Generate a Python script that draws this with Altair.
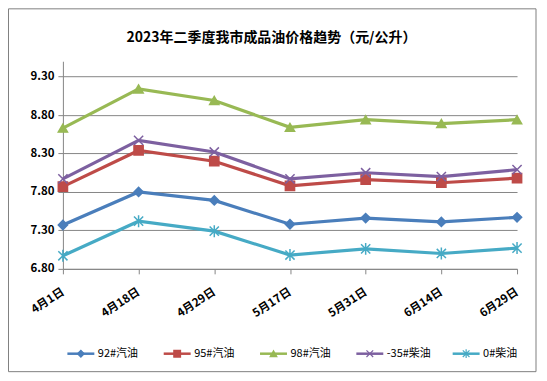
import altair as alt
import pandas as pd

# ---- data ----
dates = ["4月1日", "4月18日", "4月29日", "5月17日", "5月31日", "6月14日", "6月29日"]
series_names = ["92#汽油", "95#汽油", "98#汽油", "-35#柴油", "0#柴油"]
p92 = [7.37, 7.80, 7.69, 7.38, 7.46, 7.41, 7.47]
p95 = [7.87, 8.34, 8.20, 7.88, 7.96, 7.92, 7.98]
p98 = [8.63, 9.14, 8.99, 8.64, 8.74, 8.69, 8.74]
p35 = [7.97, 8.47, 8.32, 7.97, 8.05, 8.00, 8.09]
p0 = [6.97, 7.42, 7.29, 6.98, 7.06, 7.00, 7.07]
y_ticks = [6.80, 7.30, 7.80, 8.30, 8.80, 9.30]
title_text = "2023年二季度我市成品油价格趋势（元/公升）"

# ---- styles ----
FONT = "Noto Sans CJK SC"
GRAY = "#868686"
colors = ["#4A7EBB", "#BE4B48", "#98B954", "#7D60A0", "#46AAC5"]
X_PATH = "M-1,-1L1,1M-1,1L1,-1"
STAR_PATH = "M-1,-1L1,1M-1,1L1,-1M0,-1.3L0,1.3"
shapes = ["diamond", "square", "triangle-up", X_PATH, STAR_PATH]

rows = []
for name, vals in zip(series_names, [p92, p95, p98, p35, p0]):
    for d, v in zip(dates, vals):
        rows.append({"date": d, "series": name, "price": v})
df = pd.DataFrame(rows)
legend_df = pd.DataFrame({"series": series_names})
one = pd.DataFrame({"k": [0]})

W, H = 455, 208

color_scale = alt.Scale(domain=series_names, range=colors)
shape_scale = alt.Scale(domain=series_names, range=shapes)

x_axis = alt.Axis(
    title=None, labelAngle=-33, labelAlign="right", labelBaseline="middle",
    labelFont=FONT, labelFontSize=11.5, labelFontWeight="bold", labelColor="#000",
    tickSize=5, tickColor=GRAY, domainColor=GRAY, labelPadding=17, grid=False,
)
y_axis = alt.Axis(
    title=None, values=y_ticks, format=".2f",
    labelFont=FONT, labelFontSize=11.5, labelFontWeight="bold", labelColor="#000",
    tickSize=5, tickColor=GRAY, domainColor=GRAY, labelPadding=4,
    grid=True, gridColor=GRAY, gridWidth=1,
)


def x_enc():
    return alt.X("date:N", sort=dates, scale=alt.Scale(type="point", padding=0), axis=x_axis)


def y_enc():
    return alt.Y("price:Q", scale=alt.Scale(domain=[6.8, 9.5], nice=False, zero=False), axis=y_axis)


lines = alt.Chart(df).mark_line(strokeWidth=3.2).encode(
    x=x_enc(), y=y_enc(),
    color=alt.Color("series:N", scale=color_scale, legend=None),
    detail="series:N",
)
points = alt.Chart(df).mark_point(filled=True, size=85, opacity=1, strokeWidth=1.5).encode(
    x=x_enc(), y=y_enc(),
    color=alt.Color("series:N", scale=color_scale, legend=None),
    stroke=alt.Stroke("series:N", scale=color_scale, legend=None),
    shape=alt.Shape("series:N", scale=shape_scale, legend=None),
)
main = alt.layer(lines, points)

leg_x = alt.X("series:N", sort=series_names,
              scale=alt.Scale(type="point", range=[18, 404], padding=0), axis=None)
leg_y = alt.value(293)
leg_line = alt.Chart(legend_df).mark_point(
    shape="M-1,0L1,0", size=729, filled=False, opacity=1, strokeWidth=2.5
).encode(x=leg_x, y=leg_y, color=alt.Color("series:N", scale=color_scale, legend=None))
leg_mark = alt.Chart(legend_df).mark_point(filled=True, size=45, opacity=1, strokeWidth=1.2).encode(
    x=leg_x, y=leg_y,
    color=alt.Color("series:N", scale=color_scale, legend=None),
    stroke=alt.Stroke("series:N", scale=color_scale, legend=None),
    shape=alt.Shape("series:N", scale=shape_scale, legend=None),
)
leg_text = alt.Chart(legend_df).mark_text(
    align="left", baseline="middle", dx=17, font=FONT, fontSize=11, color="#000"
).encode(x=leg_x, y=leg_y, text="series:N")
legend = alt.layer(leg_line, leg_mark, leg_text)

border = alt.Chart(one).mark_rect(fill="transparent", stroke="#7F7F7F", strokeWidth=1).encode(
    x=alt.value(-54.5), x2=alt.value(474), y=alt.value(-52.5), y2=alt.value(311)
)
title = alt.Chart(one).mark_text(
    text=title_text, font=FONT, fontSize=14, fontWeight="bold", color="#000",
    align="center", baseline="middle",
).encode(x=alt.value(209), y=alt.value(-23))

chart = alt.layer(border, title, main, legend).resolve_scale(x="independent").properties(
    width=W, height=H,
    autosize=alt.AutoSizeParams(type="none"),
    padding={"left": 55, "top": 53, "right": 22, "bottom": 105},
    background="white",
).configure_view(stroke=None)

chart.save("out.html", embed_options={"renderer": "svg", "actions": False})
